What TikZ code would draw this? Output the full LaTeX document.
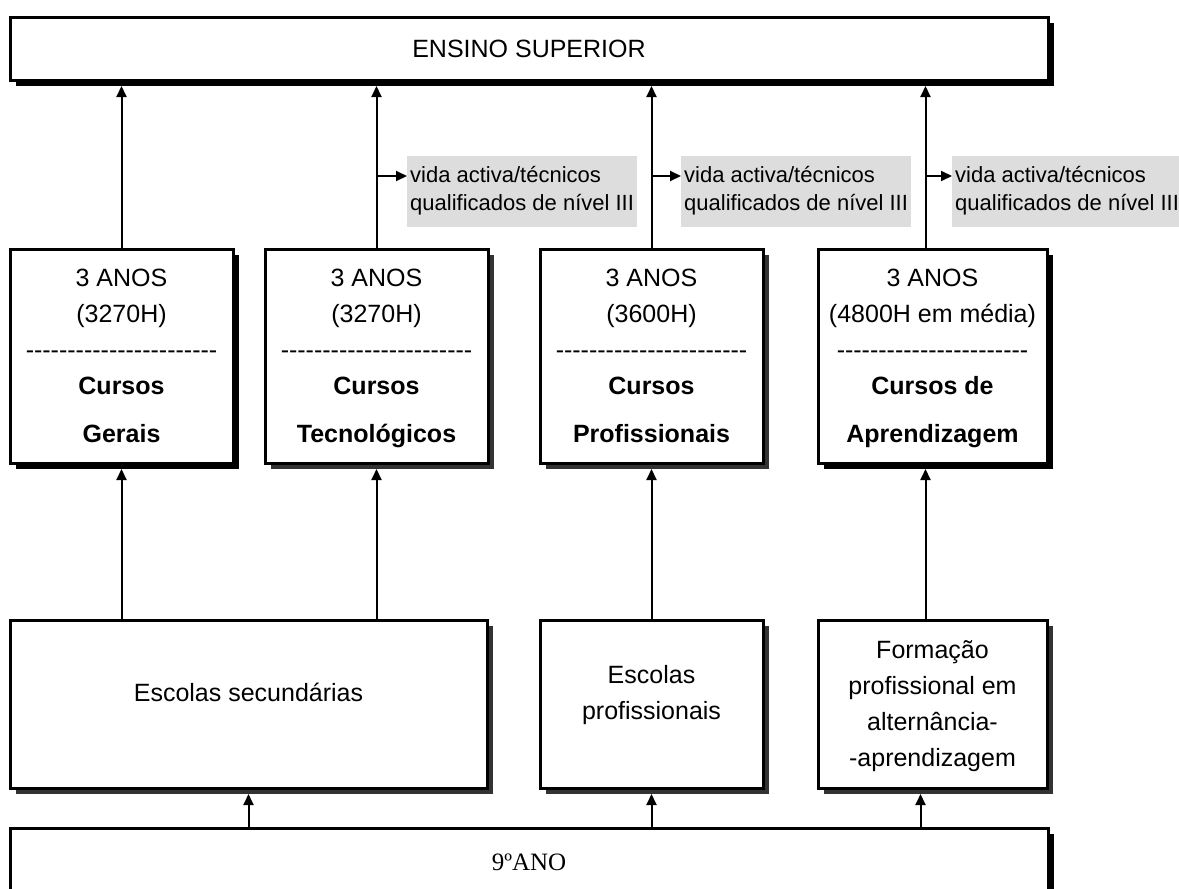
\documentclass[tikz,border=0pt]{standalone}
\usepackage{fontspec}
\setmainfont{Liberation Sans}
\newfontfamily\anofont{Liberation Serif}
\usetikzlibrary{arrows.meta, positioning, shadows}
\definecolor{notegray}{RGB}{221,221,221}
\definecolor{shadegray}{RGB}{51,51,51}
\newcommand{\dashline}{\foreach \k in {1,...,23}{-{}}}

\begin{document}
\begin{tikzpicture}[
        x=1pt, y=-1pt,
        block/.style={rectangle, draw, line width=3pt, fill=white,
                      inner sep=0pt, align=center,
                      font=\fontsize{25}{36}\selectfont},
        darkshade/.style={general shadow={fill=black, shadow xshift=6pt, shadow yshift=-6pt}},
        greyshade/.style={general shadow={fill=shadegray, shadow xshift=6pt, shadow yshift=-6pt}},
        course/.style={block, minimum width=223pt, minimum height=214pt, text depth=0pt},
        school/.style={block, greyshade, minimum width=223pt, minimum height=168pt, text depth=24pt},
        note/.style={fill=notegray, align=left, anchor=west,
                     inner xsep=3pt, inner ysep=0pt, minimum height=71pt,
                     font=\fontsize{22}{28}\selectfont},
        arrow/.style={-{Triangle[length=11pt, width=10pt]}, line width=2pt},
        up/.style={arrow, shorten >=4.5pt},
    ]
    \useasboundingbox (0,0) rectangle (1179,889);
    \clip (0,0) rectangle (1179,889);

    % top and bottom bars
    \node[block, darkshade, minimum width=1038pt, minimum height=63pt] (sup) at (529,48.5) {ENSINO SUPERIOR};
    \node[block, darkshade, minimum width=1038pt, minimum height=68pt,
          font=\anofont\fontsize{25}{30}\selectfont] (ano) at (529,862) {9ºANO};

    % the four courses
    \node[course, darkshade] (gerais) at (121.5,356) {3 ANOS\\(3270H)\\\dashline\\\textbf{Cursos}\\[12pt]\textbf{Gerais}};
    \node[course, greyshade] (tecno) at (376.5,356) {3 ANOS\\(3270H)\\\dashline\\\textbf{Cursos}\\[12pt]\textbf{Tecnológicos}};
    \node[course, greyshade] (prof) at (651.5,356) {3 ANOS\\(3600H)\\\dashline\\\textbf{Cursos}\\[12pt]\textbf{Profissionais}};
    \node[course, darkshade, minimum width=229pt] (aprend) at (932.5,356) {3 ANOS\\(4800H em média)\\\dashline\\\textbf{Cursos de}\\[12pt]\textbf{Aprendizagem}};

    % schools
    \node[school, minimum width=477pt] (sec) at (248.5,704) {Escolas secundárias};
    \node[school] (escprof) at (651.5,704) {Escolas\\profissionais};
    \node[school, minimum width=229pt, text depth=0pt] (form) at (932.5,704) {Formação\\profissional em\\alternância-\\-aprendizagem};

    % exits to working life
    \node[note] (n1) at (407,191) {vida activa/técnicos\\qualificados de nível III};
    \node[note] (n2) at (681,191) {vida activa/técnicos\\qualificados de nível III};
    \node[note] (n3) at (952,191) {vida activa/técnicos\\qualificados de nível III};

    \coordinate (a4) at ([xshift=-7pt]aprend.north);
    \coordinate (b4) at ([xshift=-7pt]aprend.south);
    \coordinate (f4) at ([xshift=-12pt]form.south);

    \draw[up] (gerais.north) -- (gerais.north |- sup.south);
    \draw[up] (tecno.north) -- (tecno.north |- sup.south);
    \draw[up] (prof.north) -- (prof.north |- sup.south);
    \draw[up] (a4) -- (a4 |- sup.south);

    \coordinate (t1) at ([yshift=15pt]n1.west);
    \coordinate (t2) at ([yshift=15pt]n2.west);
    \coordinate (t3) at ([yshift=15pt]n3.west);
    \draw[arrow] (tecno.north |- t1) -- (t1);
    \draw[arrow] (prof.north |- t2) -- (t2);
    \draw[arrow] (a4 |- t3) -- (t3);

    \draw[up] (gerais.south |- sec.north) -- (gerais.south);
    \draw[up] (tecno.south |- sec.north) -- (tecno.south);
    \draw[up] (escprof.north) -- (prof.south);
    \draw[up] (b4 |- form.north) -- (b4);

    \draw[up] (sec.south |- ano.north) -- (sec.south);
    \draw[up] (escprof.south |- ano.north) -- (escprof.south);
    \draw[up] (f4 |- ano.north) -- (f4);

\end{tikzpicture}
\end{document}
